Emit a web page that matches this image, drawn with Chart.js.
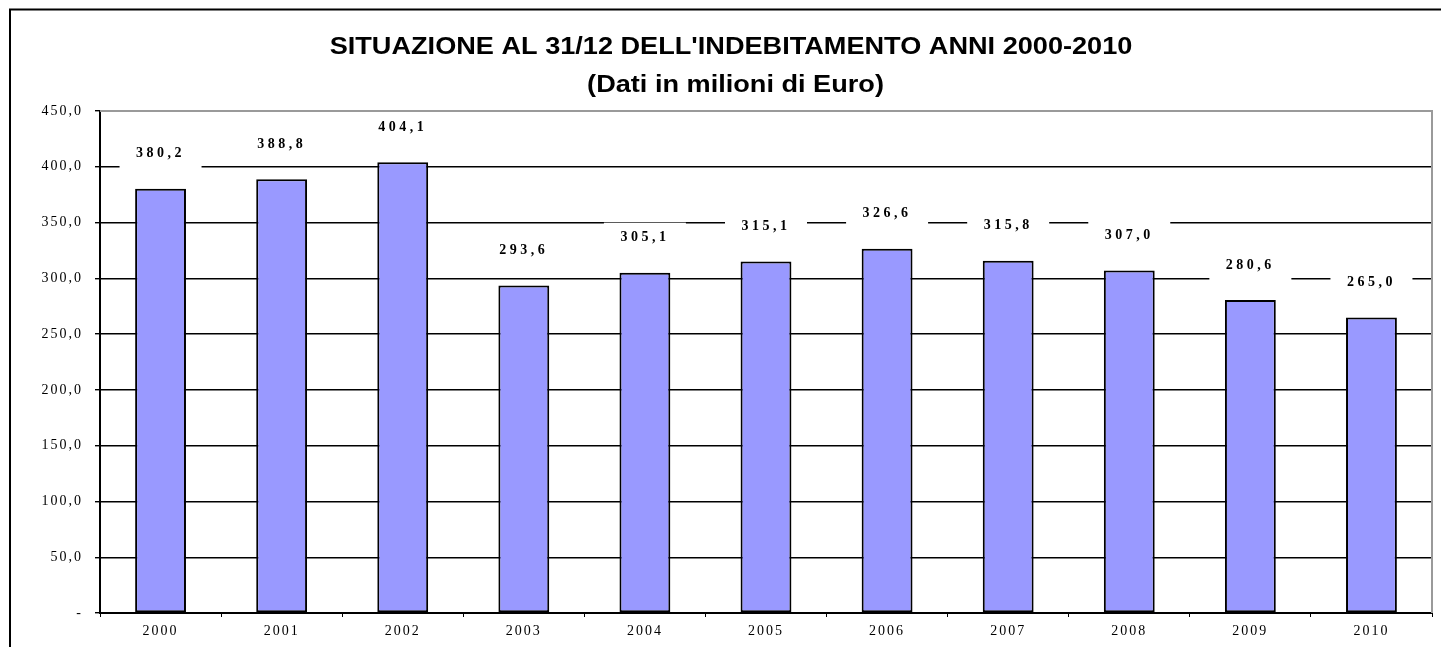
<!DOCTYPE html>
<html>
<head>
<meta charset="utf-8">
<script src="https://cdn.jsdelivr.net/npm/chart.js@4.4.0/dist/chart.umd.min.js"></script>
<style>
  html, body { margin: 0; padding: 0; background: #fff; overflow: hidden; }
  #wrap { width: 1441px; height: 647px; }
</style>
</head>
<body>
<div id="wrap"><canvas id="debtChart" width="1441" height="647"></canvas></div>
<script>
// Indebitamento al 31/12, milioni di euro
const anni = ['2000', '2001', '2002', '2003', '2004', '2005', '2006', '2007', '2008', '2009', '2010'];
const debito = [380.2, 388.8, 404.1, 293.6, 305.1, 315.1, 326.6, 315.8, 307.0, 280.6, 265.0];
const titolo = ["SITUAZIONE AL 31/12 DELL'INDEBITAMENTO ANNI 2000-2010", '(Dati in milioni di Euro)'];

const fmt = v => v === 0 ? '-' : v.toFixed(1).replace('.', ',');

// cornice esterna, bordo area grafico, etichette dei valori e titolo
const decorazioni = {
    id: 'decorazioni',
    beforeDraw(chart) {
        chart.ctx.letterSpacing = '2px';
    },
    afterDatasetsDraw(chart) {
        const ctx = chart.ctx;
        const area = chart.chartArea;
        ctx.save();
        ctx.letterSpacing = '3.5px';
        ctx.font = 'bold 14px "Liberation Serif"';
        ctx.textAlign = 'center';
        ctx.textBaseline = 'middle';
        chart.getDatasetMeta(0).data.forEach((bar, i) => {
            const y = bar.y - 35;
            ctx.fillStyle = '#fff';
            ctx.fillRect(bar.x - 41, y - 15, 82, 36);
            ctx.fillStyle = '#000';
            ctx.fillText(fmt(debito[i]), bar.x, y);
        });

        // bordo superiore e destro grigio
        ctx.strokeStyle = '#9a9a9a';
        ctx.lineWidth = 2;
        ctx.beginPath();
        ctx.moveTo(area.left, area.top);
        ctx.lineTo(area.right, area.top);
        ctx.lineTo(area.right, area.bottom);
        ctx.stroke();
        ctx.restore();
    },
    afterDraw(chart) {
        const ctx = chart.ctx;
        ctx.save();
        ctx.letterSpacing = '0px';
        ctx.strokeStyle = '#000';
        ctx.lineWidth = 2;
        ctx.strokeRect(10, 9.5, 3000, 3000);

        ctx.fillStyle = '#000';
        ctx.font = 'bold 24px "Liberation Sans"';
        ctx.textAlign = 'center';
        ctx.textBaseline = 'middle';
        ctx.translate(731, 0);
        ctx.scale(1.13, 1);
        ctx.fillText(titolo[0], 0, 47);
        ctx.fillText(titolo[1], 4, 85);
        ctx.restore();
    }
};

const ctx = document.getElementById('debtChart').getContext('2d');
new Chart(ctx, {
    type: 'bar',
    data: {
        labels: anni,
        datasets: [{
            data: debito,
            backgroundColor: '#9999ff',
            borderColor: '#000',
            borderWidth: 2,
            borderSkipped: false,
            barPercentage: 0.42,
            categoryPercentage: 1
        }]
    },
    options: {
        responsive: false,
        animation: false,
        layout: { padding: { top: 111, right: 9, bottom: 0, left: 0 } },
        plugins: {
            legend: { display: false },
            title: { display: false },
            tooltip: { enabled: false }
        },
        scales: {
            x: {
                afterFit: s => { s.height = 34; },
                grid: {
                    offset: true,
                    drawOnChartArea: false,
                    drawTicks: true,
                    tickLength: 4,
                    color: '#000',
                    lineWidth: 1
                },
                border: { color: '#000', width: 2 },
                ticks: {
                    color: '#000',
                    padding: 6,
                    font: { family: 'Liberation Serif', size: 14 }
                }
            },
            y: {
                min: 0,
                max: 450,
                afterFit: s => { s.width = 100; },
                grid: {
                    color: '#000',
                    lineWidth: 1.4,
                    tickLength: 5
                },
                border: { color: '#000', width: 2 },
                ticks: {
                    stepSize: 50,
                    color: '#000',
                    padding: 12,
                    font: { family: 'Liberation Serif', size: 14 },
                    callback: v => fmt(v)
                }
            }
        }
    },
    plugins: [decorazioni]
});
</script>
</body>
</html>
